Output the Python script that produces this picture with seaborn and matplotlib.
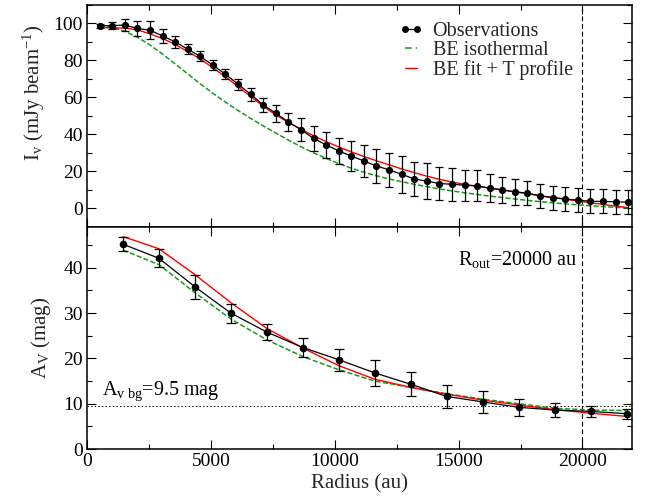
import matplotlib
matplotlib.use("Agg")
import matplotlib.pyplot as plt
from matplotlib.ticker import MultipleLocator
from matplotlib.lines import Line2D
import seaborn as sns

# ---------------- data ----------------
radius_I = [508, 1016, 1524, 2032, 2540, 3048, 3556, 4064, 4572, 5080,
            5588, 6096, 6604, 7112, 7620, 8128, 8636, 9144, 9652, 10160,
            10668, 11176, 11684, 12192, 12700, 13208, 13716, 14224, 14732, 15240,
            15748, 16256, 16764, 17272, 17780, 18288, 18796, 19304, 19812, 20320,
            20828, 21336, 21844]
obs_I = [98.8, 98.8, 99.2, 97.3, 96.4, 93.3, 90.1, 86.1, 82.2, 77.5,
         72.6, 67.2, 61.8, 56.0, 51.5, 46.8, 42.6, 37.9, 34.4, 31.1,
         28.4, 25.7, 23.0, 20.9, 18.5, 16.0, 14.8, 13.5, 13.1, 12.6,
         12.2, 11.0, 10.1, 9.0, 8.3, 6.8, 5.9, 5.2, 4.5, 3.9,
         3.8, 3.6, 3.4]
err_I = [1.0, 2.0, 3.4, 4.0, 4.7, 3.6, 3.2, 2.7, 2.7, 2.7,
         2.7, 2.9, 3.6, 3.9, 4.5, 4.9, 6.2, 6.6, 6.9, 7.2,
         8.1, 8.5, 9.1, 9.2, 9.9, 9.4, 9.7, 8.8, 9.0, 8.4,
         8.4, 7.4, 7.0, 6.9, 6.5, 6.5, 6.5, 6.5, 6.5, 6.5,
         6.5, 6.5, 6.5]
iso_I = [98.6, 97.9, 95.8, 92.6, 88.4, 83.5, 78.2, 72.8, 67.4, 62.3,
         57.5, 53.0, 48.7, 44.7, 40.8, 37.0, 33.4, 30.1, 27.1, 24.3,
         21.8, 19.6, 17.7, 16.0, 14.5, 13.1, 11.8, 10.6, 9.5, 8.5,
         7.6, 6.7, 5.9, 5.1, 4.4, 3.7, 3.1, 2.5, 2.0, 1.5,
         1.0, 0.6, 0.3]
fit_I = [97.8, 97.7, 97.5, 96.6, 94.4, 91.9, 88.7, 84.8, 80.8, 76.1,
         71.2, 65.9, 60.6, 55.3, 50.6, 46.5, 42.9, 39.3, 36.2, 33.3,
         30.6, 28.1, 25.8, 23.6, 21.4, 19.4, 17.5, 15.8, 14.3, 13.1,
         12.0, 11.0, 10.0, 9.0, 8.0, 6.9, 5.9, 5.0, 4.1, 3.1,
         2.2, 1.3, 0.5]

radius_A = [1452, 2904, 4356, 5808, 7260, 8712, 10164, 11616, 13068, 14520,
            15972, 17424, 18876, 20328, 21780]
obs_A = [45.2, 42.1, 35.8, 30.0, 25.8, 22.4, 19.7, 16.8, 14.3, 11.6,
         10.4, 9.2, 8.6, 8.3, 7.8]
err_A = [1.6, 1.95, 2.6, 2.1, 1.85, 2.0, 2.4, 2.8, 2.65, 2.5,
         2.4, 1.85, 1.6, 1.3, 1.1]
iso_A = [43.9, 40.7, 34.5, 28.7, 24.1, 20.4, 17.5, 15.0, 13.6, 12.2,
         11.0, 10.0, 9.0, 8.6, 8.5]
fit_A = [46.9, 44.2, 38.5, 32.3, 26.6, 22.3, 18.4, 15.4, 13.6, 12.1,
         10.8, 9.7, 8.7, 7.9, 7.2]

r_out = 20000
av_bg = 9.5

legend_labels = ["Observations", "BE isothermal", "BE fit + T profile"]

# ---------------- style ----------------
sns.set_theme(style="ticks")
plt.rcParams.update({
    "font.family": ["Liberation Serif", "DejaVu Serif"],
    "mathtext.fontset": "custom",
    "mathtext.rm": "Liberation Serif",
    "mathtext.it": "Liberation Serif:italic",
    "mathtext.bf": "Liberation Serif:bold",
    "axes.linewidth": 1.1,
    "axes.edgecolor": "black",
    "lines.scale_dashes": False,
    "xtick.direction": "in",
    "ytick.direction": "in",
    "xtick.top": True,
    "ytick.right": True,
    "xtick.major.size": 6.7,
    "ytick.major.size": 6.7,
    "xtick.minor.size": 3.4,
    "ytick.minor.size": 3.4,
    "xtick.major.width": 0.8,
    "ytick.major.width": 0.8,
    "xtick.minor.width": 0.8,
    "ytick.minor.width": 0.8,
    "xtick.color": "black",
    "ytick.color": "black",
    "xtick.labelsize": 14,
    "ytick.labelsize": 14,
    "axes.labelsize": 15,
})

GREEN = "#1a9a1a"
RED = "#ff0000"

fig = plt.figure(figsize=(6.51, 4.98), dpi=100)
ax1 = fig.add_axes([0.13364, 0.54418, 0.83717, 0.44578])
ax2 = fig.add_axes([0.13364, 0.09839, 0.83717, 0.44578], sharex=ax1)

# ---------------- top panel ----------------
ax1.errorbar(radius_I, obs_I, yerr=err_I, fmt="none", ecolor="black",
             elinewidth=0.9, capsize=2.7, capthick=0.9, zorder=3)
sns.lineplot(x=radius_I, y=iso_I, ax=ax1, color=GREEN, linewidth=1.1,
             linestyle="--", dashes=(4.8, 2.9), zorder=2)
sns.lineplot(x=radius_I, y=fit_I, ax=ax1, color=RED, linewidth=1.0, zorder=2)
sns.lineplot(x=radius_I, y=obs_I, ax=ax1, color="black", linewidth=0.9,
             marker="o", markersize=5.2, markeredgewidth=0, zorder=4)
ax1.axvline(r_out, color="black", linewidth=0.8, linestyle=(0, (3.5, 2.0)), zorder=1)

ax1.set_ylim(-10, 110)
ax1.yaxis.set_major_locator(MultipleLocator(20))
ax1.yaxis.set_minor_locator(MultipleLocator(10))
ax1.set_ylabel(r"I$_\mathrm{v}$ (mJy beam$^\mathrm{-1}$)")
ax1.yaxis.set_label_coords(-0.073, 0.605)
ax1.tick_params(axis="x", which="both", labelbottom=False)
ax1.tick_params(axis="both", pad=3)

handles = [
    Line2D([], [], color="black", linewidth=0.9, marker="o", markersize=5,
           markeredgewidth=0),
    Line2D([], [], color=GREEN, linewidth=1.1, linestyle=(0, (4.8, 2.9))),
    Line2D([], [], color=RED, linewidth=1.0),
]
ax1.legend(handles, legend_labels, loc="upper left",
           bbox_to_anchor=(0.573, 0.925), frameon=False, fontsize=14.5,
           numpoints=2, handlelength=1.2, handletextpad=0.45,
           labelspacing=0.0, borderpad=0, borderaxespad=0)

# ---------------- bottom panel ----------------
ax2.errorbar(radius_A, obs_A, yerr=err_A, fmt="none", ecolor="black",
             elinewidth=0.9, capsize=3.6, capthick=0.9, zorder=3)
sns.lineplot(x=radius_A, y=iso_A, ax=ax2, color=GREEN, linewidth=1.1,
             linestyle="--", dashes=(4.8, 2.9), zorder=2)
sns.lineplot(x=radius_A, y=fit_A, ax=ax2, color=RED, linewidth=1.0, zorder=2)
sns.lineplot(x=radius_A, y=obs_A, ax=ax2, color="black", linewidth=0.9,
             marker="o", markersize=5.5, markeredgewidth=0, zorder=4)
ax2.axvline(r_out, color="black", linewidth=0.8, linestyle=(0, (3.5, 2.0)), zorder=1)
ax2.axhline(av_bg, color="black", linewidth=0.7, linestyle=(0, (1.0, 1.6)), zorder=1)

ax2.set_ylim(0, 49)
ax2.yaxis.set_major_locator(MultipleLocator(10))
ax2.yaxis.set_minor_locator(MultipleLocator(5))
ax2.set_xlim(0, 22000)
ax2.xaxis.set_major_locator(MultipleLocator(5000))
ax2.xaxis.set_minor_locator(MultipleLocator(2500))
ax2.set_ylabel(r"A$_\mathrm{V}$ (mag)")
ax2.yaxis.set_label_coords(-0.062, 0.502)
ax2.set_xlabel("Radius (au)", labelpad=3)
ax2.tick_params(axis="both", pad=3)

ax2.text(19800, 40.6, r"R$_\mathrm{out}$=20000 au", ha="right", va="baseline",
         fontsize=14.5, color="black")
ax2.text(600, 12.0, r"A$_\mathrm{v\ bg}$=9.5 mag", ha="left", va="baseline",
         fontsize=14.5, color="black")

for ax in (ax1, ax2):
    for s in ax.spines.values():
        s.set_visible(True)
        s.set_color("black")
    ax.grid(False)
    ax.set_facecolor("white")

fig.savefig("out.png", dpi=100, facecolor="white")
